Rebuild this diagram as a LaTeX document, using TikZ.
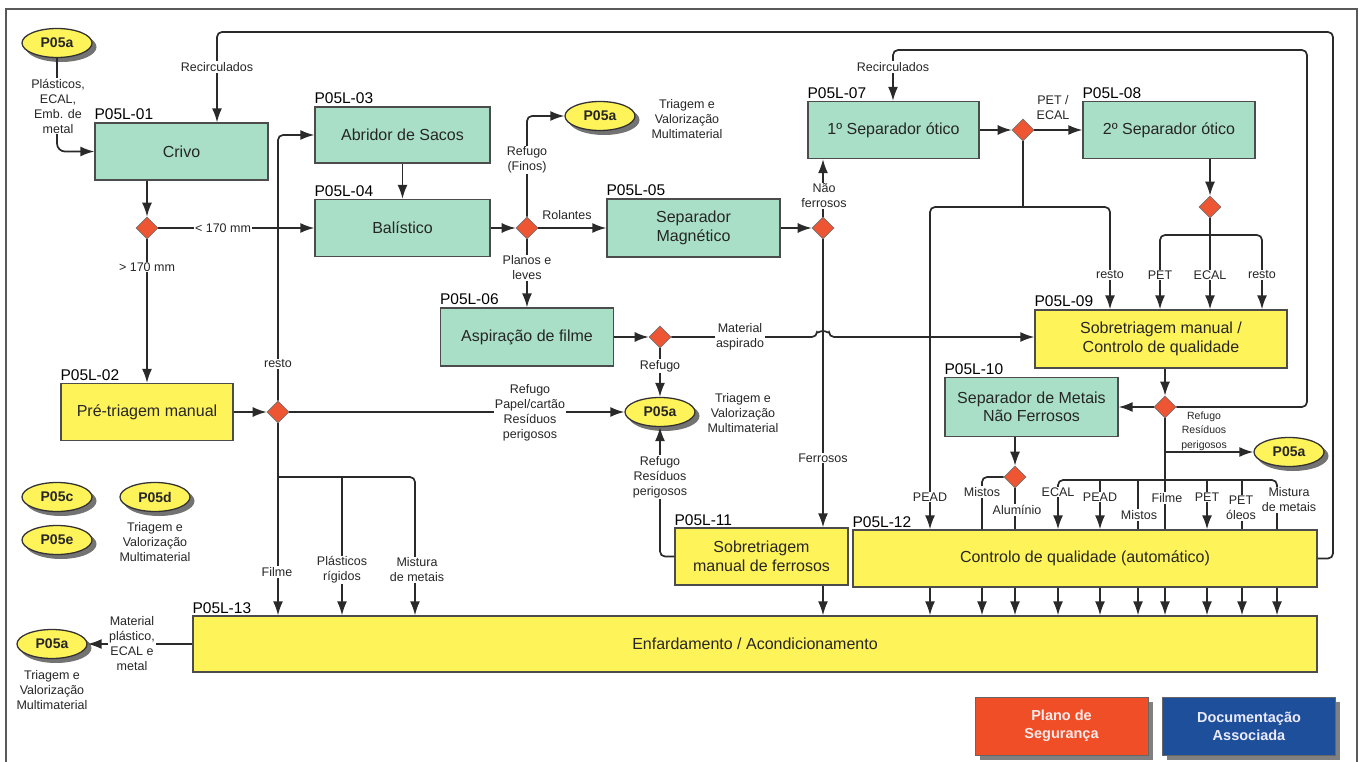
\documentclass[tikz,border=0pt]{standalone}
\usepackage{fontspec}
\setmainfont{Liberation Sans}
\usetikzlibrary{arrows.meta,shapes.geometric}
\definecolor{boxgreen}{HTML}{A9DFC7}
\definecolor{boxyellow}{HTML}{FFF35A}
\definecolor{diared}{HTML}{EE5533}
\definecolor{linegray}{HTML}{2A2A2A}
\definecolor{planored}{HTML}{F04E27}
\definecolor{docblue}{HTML}{1E4F9A}
\begin{document}
\begin{tikzpicture}[x=1pt,y=-1pt,
  gbox/.style={draw=black!70, line width=1.3pt, fill=boxgreen, text=black!85, font=\fontsize{16}{18.5}\selectfont, align=center, inner sep=0pt},
  ybox/.style={gbox, fill=boxyellow},
  dia/.style={diamond, draw=black!55, line width=0.6pt, fill=diared, minimum width=22pt, minimum height=22pt, inner sep=0pt},
  oval/.style={ellipse, draw=black!80, line width=1.3pt, fill=boxyellow, minimum width=70pt, minimum height=29pt, inner sep=0pt, text=black!85, font=\fontsize{14}{16}\selectfont\bfseries},
  ovalshadow/.style={ellipse, fill=black!55, minimum width=71pt, minimum height=30pt, inner sep=0pt},
  legshadow/.style={rectangle, fill=black!50, minimum width=173pt, minimum height=58pt, inner sep=0pt},
  plbl/.style={anchor=south west, inner sep=0pt, yshift=2pt, font=\fontsize{15.5}{17}\selectfont},
  lbl/.style={align=center, inner sep=1pt, text=black!85, font=\fontsize{12.5}{15}\selectfont},
  wl/.style={lbl, fill=white},
  conn/.style={draw=linegray, line width=1.7pt, rounded corners=5pt},
  arr/.style={conn, -{Latex[length=14pt,width=10pt]}},
  legend/.style={draw=black!60, line width=0.8pt, minimum width=173pt, minimum height=58pt, align=center, inner sep=0pt, font=\fontsize{14.5}{18}\selectfont\bfseries}
]
\useasboundingbox (0,0) rectangle (1360,762);
\fill[white] (0,0) rectangle (1360,762);
\draw[black!65, line width=1.6pt] (6,762) -- (6,9) -- (1357,9) -- (1357,762);

% ---------- boxes ----------
\node[gbox, minimum width=173pt, minimum height=57pt] (crivo) at (181.5,151.5) {Crivo};
\node[plbl] (t01) at (crivo.north west) {P05L-01};
\node[ybox, minimum width=172pt, minimum height=57pt] (pre) at (147,412) {Pré-triagem manual};
\node[plbl] (t02) at (pre.north west) {P05L-02};
\node[gbox, minimum width=175pt, minimum height=56pt] (abridor) at (402.5,135) {Abridor de Sacos};
\node[plbl] (t03) at (abridor.north west) {P05L-03};
\node[gbox, minimum width=175pt, minimum height=57pt] (balistico) at (402.5,228) {Balístico};
\node[plbl] (t04) at (balistico.north west) {P05L-04};
\node[gbox, minimum width=173pt, minimum height=58pt] (magnet) at (693.5,228) {Separador\\Magnético};
\node[plbl] (t05) at (magnet.north west) {P05L-05};
\node[gbox, minimum width=173pt, minimum height=58pt] (aspir) at (527,337) {Aspiração de filme};
\node[plbl] (t06) at (aspir.north west) {P05L-06};
\node[gbox, minimum width=171pt, minimum height=57pt] (sep1) at (893.5,130) {1º Separador ótico};
\node[plbl] (t07) at (sep1.north west) {P05L-07};
\node[gbox, minimum width=172pt, minimum height=57pt] (sep2) at (1169,130) {2º Separador ótico};
\node[plbl] (t08) at (sep2.north west) {P05L-08};
\node[ybox, minimum width=252pt, minimum height=58pt] (sobre) at (1161,339) {Sobretriagem manual /\\Controlo de qualidade};
\node[plbl] (t09) at (sobre.north west) {P05L-09};
\node[gbox, minimum width=173pt, minimum height=59pt] (metais) at (1031.5,407) {Separador de Metais\\Não Ferrosos};
\node[plbl] (t10) at (metais.north west) {P05L-10};
\node[ybox, minimum width=173pt, minimum height=57pt] (ferr) at (761.5,556.5) {Sobretriagem\\manual de ferrosos};
\node[plbl] (t11) at (ferr.north west) {P05L-11};
\node[ybox, minimum width=464pt, minimum height=57pt] (ctrl) at (1085,558.5) {Controlo de qualidade (automático)};
\node[plbl] (t12) at (ctrl.north west) {P05L-12};
\node[ybox, minimum width=1124pt, minimum height=56pt] (enf) at (755,644) {Enfardamento / Acondicionamento};
\node[plbl] (t13) at (enf.north west) {P05L-13};

% ---------- diamonds ----------
\node[dia] (d1) at (147,228) {};
\node[dia] (d2) at (278,412) {};
\node[dia] (d3) at (527,228) {};
\node[dia] (d4) at (823,228) {};
\node[dia] (d5) at (660,337) {};
\node[dia] (d6) at (1023,130) {};
\node[dia] (d7) at (1210,207) {};
\node[dia] (d8) at (1165,407) {};
\node[dia] (d9) at (1015,477) {};

% ---------- ellipse shadows ----------
\node[ovalshadow] (s1) at (61,47) {};
\node[ovalshadow] (s2) at (604,120) {};
\node[ovalshadow] (s3) at (664,416) {};
\node[ovalshadow] (s4) at (1293,456) {};
\node[ovalshadow] (s5) at (56,648) {};
\node[ovalshadow] (s6) at (61,501) {};
\node[ovalshadow] (s7) at (159,501) {};
\node[ovalshadow] (s8) at (61,544) {};

% ---------- ellipses ----------
\node[oval] (e1) at (57,43) {P05a};
\node[oval] (e2) at (600,116) {P05a};
\node[oval] (e3) at (660,412) {P05a};
\node[oval] (e4) at (1289,452) {P05a};
\node[oval] (e5) at (52,644) {P05a};
\node[oval] (ec) at (57,497) {P05c};
\node[oval] (ed) at (155,497) {P05d};
\node[oval] (ee) at (57,540) {P05e};

% ---------- legend ----------
\node[legshadow] (s9) at (1066,731) {};
\node[legshadow] (s10) at (1253.5,731) {};
\node[legend, fill=planored, text=red!8] (plano) at (1061.5,726) {Plano de\\Segurança};
\node[legend, fill=docblue, text=blue!8] (doc) at (1249,726) {Documentação\\Associada};

% ---------- connectors ----------
\draw[arr, rounded corners=8pt] (e1.south) |- (crivo.west);
\draw[arr] (crivo.south -| d1.north) -- (d1.north);
\draw[arr] (d1.east) -- (d1.east -| balistico.west);
\draw[arr] (d1.south) -- (d1.south |- pre.north);
\draw[arr] (pre.east) -- (d2.west);
\draw[arr] (d2.north) |- (abridor.west);
\draw[arr] (d2.east) -- (e3.west);
\draw[arr] (d2.south) -- (enf.north -| d2.south);
\draw[arr] (d2.south |- 0,477) -| (enf.north -| 415,0);
\draw[arr] (342,477) -- (enf.north -| 342,0);

\draw[arr] (abridor.south) -- (balistico.north);
\draw[arr] (balistico.east) -- (d3.west);
\draw[arr] (d3.north) |- (e2.west);
\draw[arr] (d3.east) -- (magnet.west);
\draw[arr] (d3.south) -- (aspir.north);
\draw[arr] (magnet.east) -- (d4.west);
\draw[arr] (d4.north) -- (d4.north |- sep1.south);
\draw[arr] (d4.south) -- (d4.south |- ferr.north);
\draw[arr] (aspir.east) -- (d5.west);
\draw[arr] (d5.south) -- (e3.north);
\draw[arr] (d5.east) -- (817,337) arc[start angle=180, end angle=0, radius=6pt] -- (sobre.west |- d5.east);

\draw[arr] (sep1.east) -- (d6.west);
\draw[arr] (d6.east) -- (sep2.west);
\draw[conn] (d6.south) -- (1023,207);
\draw[arr] (1023,207) -| (ctrl.north -| 930,0);
\draw[arr] (1023,207) -| (sobre.north -| 1110,0);

\draw[arr] (sep2.south -| d7.north) -- (d7.north);
\draw[arr] (d7.south) -- (d7.south |- sobre.north);
\draw[arr] (1210,235) -| (sobre.north -| 1160,0);
\draw[arr] (1210,235) -| (sobre.north -| 1262,0);

\draw[arr] (sobre.south -| d8.north) -- (d8.north);
\draw[arr] (d8.west) -- (metais.east);
\draw[arr] (d8.east) -| (1307,50) -| (sep1.north -| 893,0);
\draw[arr] (ctrl.east) -| (1333,32) -| (crivo.north -| 217,0);
\draw[conn] (d8.south) -- (ctrl.north -| d8.south);
\draw[arr] (1165,452) -- (e4.west);
\draw[arr] (1165,480) -| (ctrl.north -| 1058,0);
\draw[conn] (1165,480) -| (ctrl.north -| 1277,0);
\draw[arr] (1100,480) -- (ctrl.north -| 1100,0);
\draw[conn] (1138,480) -- (ctrl.north -| 1138,0);
\draw[arr] (1207,480) -- (ctrl.north -| 1207,0);
\draw[conn] (1242,480) -- (ctrl.north -| 1242,0);

\draw[arr] (metais.south -| d9.north) -- (d9.north);
\draw[conn] (d9.west) -| (ctrl.north -| 982,0);
\draw[conn] (d9.south) -- (ctrl.north -| d9.south);

\foreach \xx in {930,982,1015,1058,1100,1138,1165,1207,1242,1277}
  \draw[arr] (ctrl.south -| \xx,0) -- (enf.north -| \xx,0);
\draw[arr] (ferr.south -| d4.south) -- (enf.north -| d4.south);
\draw[arr] (ferr.west) -| (e3.south);
\draw[arr] (enf.west) -- (e5.east);

% ---------- labels ----------
\node[wl] (l1) at (58,106) {Plásticos,\\ECAL,\\Emb. de\\metal};
\node[wl] (l2) at (217,67) {Recirculados};
\node[wl] (l3) at (893,67) {Recirculados};
\node[wl] (l4) at (223,228) {< 170 mm};
\node[wl] (l5) at (147,267) {> 170 mm};
\node[wl] (l6) at (278,364) {resto};
\node[wl] (l7) at (527,160) {Refugo\\(Finos)};
\node[lbl] (l8) at (567,215) {Rolantes};
\node[wl] (l9) at (527,268) {Planos e\\leves};
\node[lbl] (l10) at (687,119) {Triagem e\\Valorização\\Multimaterial};
\node[wl] (l11) at (824,196) {Não\\ferrosos};
\node[lbl] (l12) at (1053,108) {PET /\\ECAL};
\node[wl] (l13) at (740,337) {Material\\aspirado};
\node[wl] (l14) at (660,366) {Refugo};
\node[wl] (l15) at (530,413) {Refugo\\Papel/cartão\\Resíduos\\perigosos};
\node[lbl] (l16) at (743,413) {Triagem e\\Valorização\\Multimaterial};
\node[wl] (l17) at (660,477) {Refugo\\Resíduos\\perigosos};
\node[wl] (l18) at (823,458) {Ferrosos};
\node[wl] (l19) at (1110,275) {resto};
\node[wl] (l20) at (1160,275) {PET};
\node[wl] (l21) at (1210,275) {ECAL};
\node[wl] (l22) at (1262,275) {resto};
\node[lbl, font=\fontsize{10.5}{14.5}\selectfont] (l23) at (1204,431) {Refugo\\Resíduos\\perigosos};
\node[wl] (l24) at (930,497) {PEAD};
\node[wl] (l25) at (982,492) {Mistos};
\node[wl] (l26) at (1017,510) {Alumínio};
\node[wl] (l27) at (1058,492) {ECAL};
\node[wl] (l28) at (1100,497) {PEAD};
\node[wl] (l29) at (1139,515) {Mistos};
\node[wl] (l30) at (1167,498) {Filme};
\node[wl] (l31) at (1207,497) {PET};
\node[wl] (l32) at (1241,508) {PET\\óleos};
\node[wl] (l33) at (1289,500) {Mistura\\de metais};
\node[wl] (l34) at (277,572) {Filme};
\node[wl] (l35) at (342,570) {Plásticos\\rígidos};
\node[wl] (l36) at (417,570) {Mistura\\de metais};
\node[lbl] (l37) at (155,542) {Triagem e\\Valorização\\Multimaterial};
\node[wl] (l38) at (132,644) {Material\\plástico,\\ECAL e\\metal};
\node[lbl] (l39) at (52,690) {Triagem e\\Valorização\\Multimaterial};
\end{tikzpicture}
\end{document}
